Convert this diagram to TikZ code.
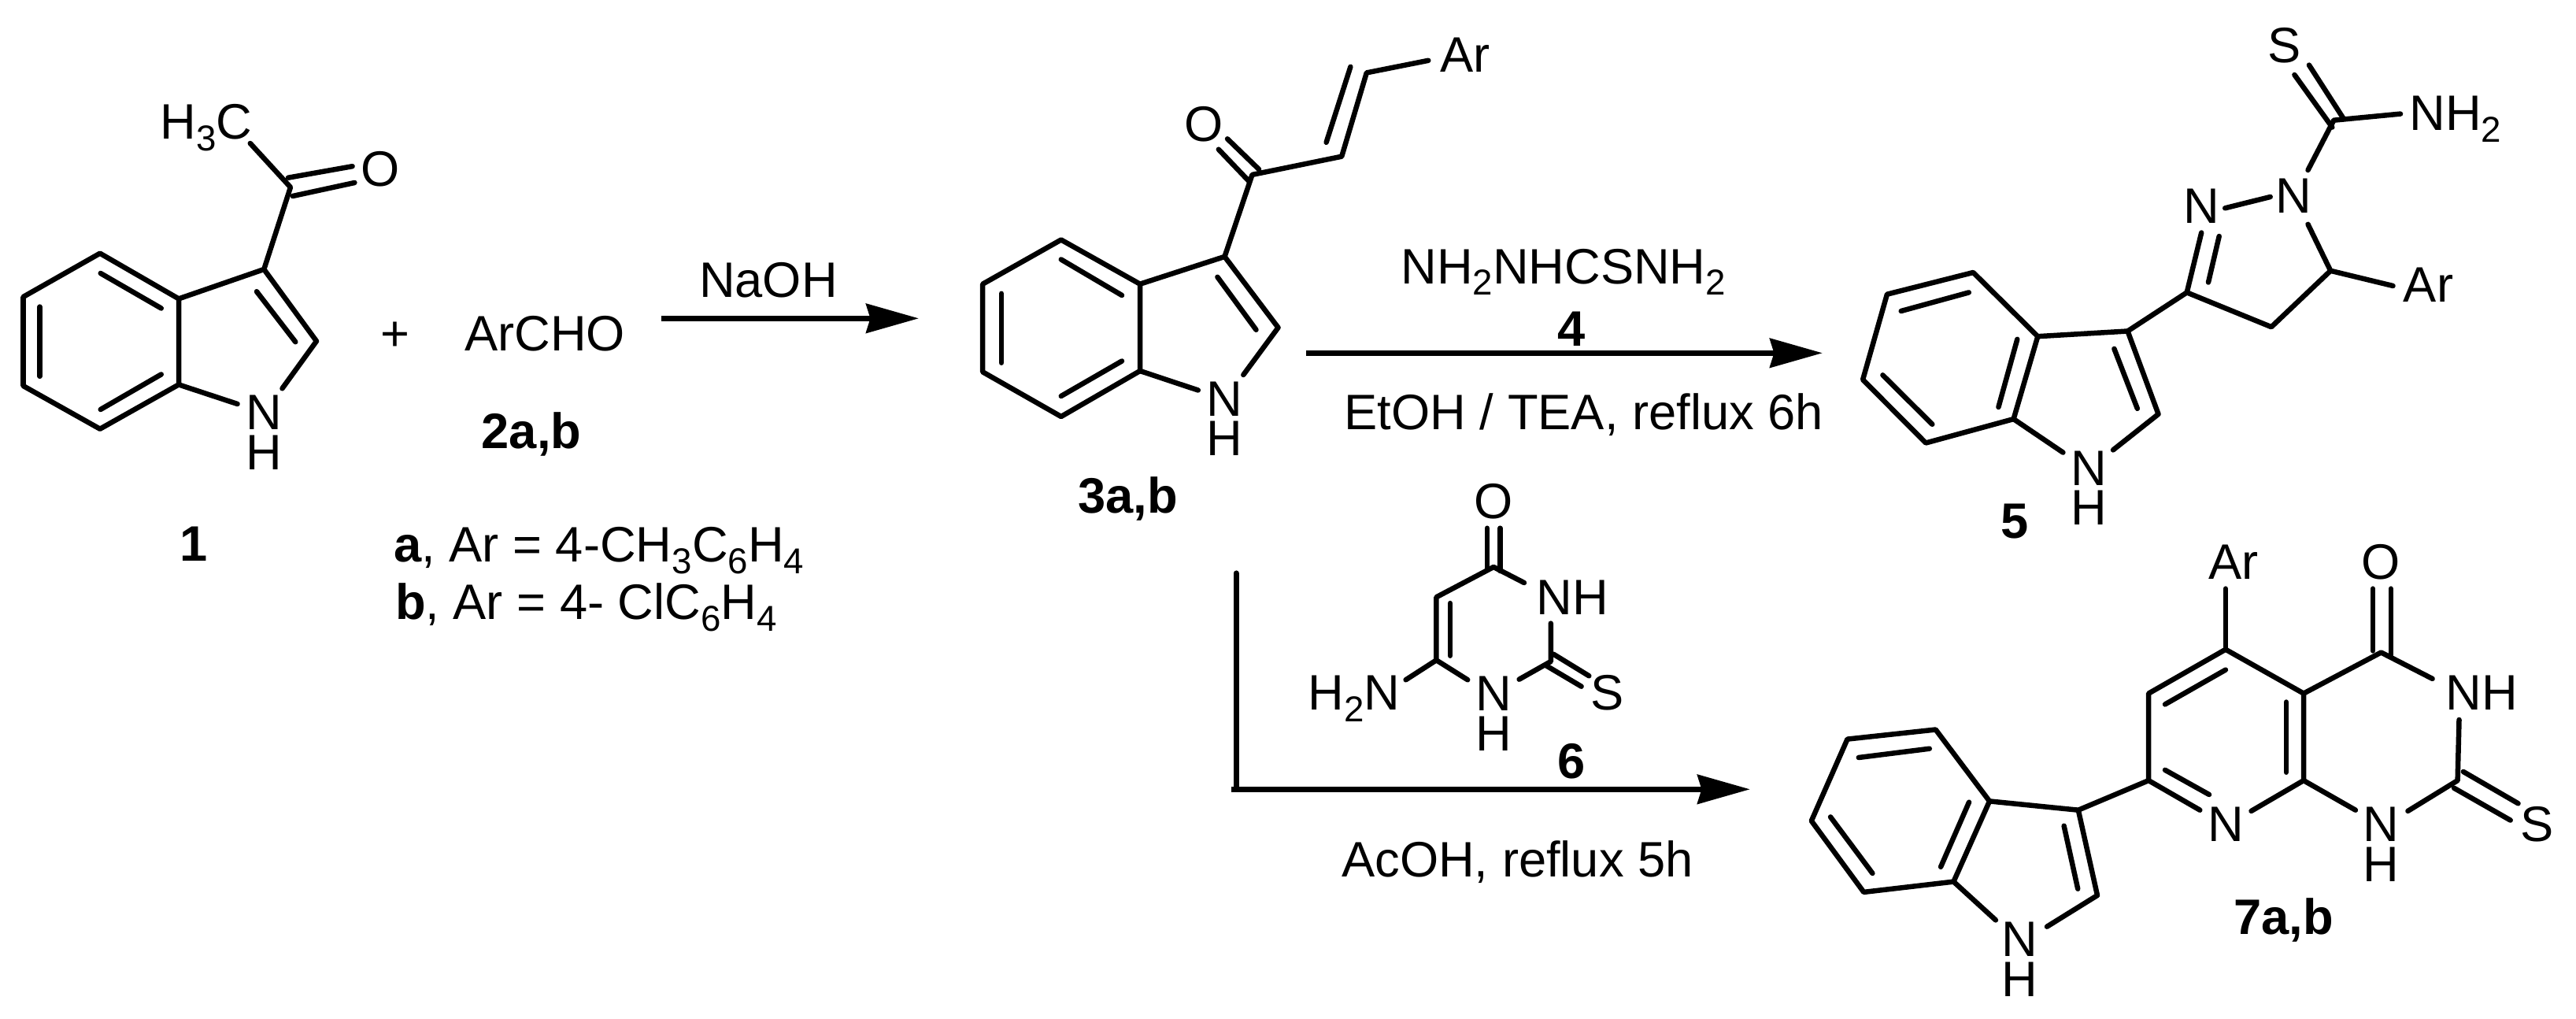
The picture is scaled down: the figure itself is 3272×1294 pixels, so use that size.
\documentclass[tikz,border=0pt]{standalone}
\usepackage{fontspec}
\setmainfont{Liberation Sans}
\usetikzlibrary{arrows.meta}
\newcommand{\chsub}[1]{\raisebox{-8.5pt}{\fontsize{26}{26}\selectfont #1}}
\newcommand{\nhstack}{\vtop{\baselineskip=28.9pt\lineskiplimit=-100pt\hbox{N}\hbox{H}}}
\tikzset{
  bond/.style={line width=3.7pt,line cap=round,line join=round,black},
  rxn/.style={line width=4pt,black,-{Stealth[length=38pt,width=21pt,inset=3pt]}},
  lab/.style={font=\fontsize{36}{36}\selectfont,inner sep=0pt,anchor=base,black},
  labl/.style={lab,anchor=base west},
  labb/.style={font=\fontsize{36}{36}\selectfont\bfseries,inner sep=0pt,anchor=base,black},
}
\begin{document}
\begin{tikzpicture}[x=0.02cm,y=-0.02cm]
\path[fill=white,use as bounding box] (0,0) rectangle (3272,1294);
% ---------- atom and bond-end coordinates
\foreach \n/\x/\y in {
 % compound 1
 a1/127/321.7,a2/29.5/377,a3/29.5/490,a4/127/544.7,a5/227/488.4,a6/227/379.4,
 a7/335.3/342,a8/402/433.2,a9/301.6/513,a10/358.5/493.3,a11/369/237.8,a12/317.8/182,
 a13/366/225.7,a14/447.6/211.2,a15/371.8/249,a16/450.4/232,
 a17/127.7/347,a18/204.8/391.5,a19/50.5/389.6,a20/50.5/477.8,a21/127.7/520,a22/204.8/475.4,
 a23/326/370.2,a24/375.3/434.2,
 % compound 3
 b1/1347.8/304.5,b2/1248.2/360.7,b3/1248.2/472.3,b4/1347.8/529,b5/1448/471,b6/1448/360.7,
 b7/1555.5/325.9,b8/1623.5/416,b9/1521.8/495.5,b10/1579.3/476,
 b11/1347.8/329.5,b12/1425/375,b13/1272/372.8,b14/1272/460.7,b15/1347.8/503,b16/1425/458.5,
 b17/1546.4/351.8,b18/1595.5/418.8,b19/1590.5/221.9,b20/1559/176.3,b21/1599/215,
 b22/1547.8/189.7,b23/1586.3/230,b24/1704.2/198.7,b25/1735.8/92.4,b26/1684.6/180.8,
 b27/1715.4/84.8,b28/1814.3/76.8,
 % compound 5
 c1/2506.3/346,c2/2396.9/373.7,c3/2366.1/482.1,c4/2446.1/562.5,c5/2557.6/532.1,c6/2588.3/427.2,
 c7/2702.5/420.5,c8/2741.5/525.9,c9/2620.4/574.6,c10/2684/571.4,
 c11/2500.8/371.4,c12/2414.7/395,c13/2391.4/476.3,c14/2454.3/538.8,c15/2538.4/517,c16/2562.3/430.8,
 c17/2685.4/442.9,c18/2714.8/518.8,c19/2777.7/371.4,c20/2885/415.2,c21/2960.2/343.8,
 c22/3039.5/363,c23/2826.2/264.3,c24/2883.7/250,c25/2796.2/295.5,c26/2805/358.5,c27/2818.7/300,
 c28/2931.5/284.8,c29/2931.5/216,c30/2964.3/152.7,c31/3049/144.6,
 c32/2932.9/82.6,c33/2976/149.6,c34/2914.4/95,c35/2962.3/161.6,
 % compound 6
 d1/1897.1/720,d2/1888.9/670.7,d3/1888.9/722.4,d4/1905.4/670.7,d5/1905.4/725,
 d6/1824.4/758.3,d7/1824.4/838.3,d8/1841.9/766,d9/1841.9/832.7,d10/1935.9/740,
 d11/1969.8/791.6,d12/1969.8/840,d13/1864.2/863.3,d14/1929.6/862.7,d15/1785.6/863.3,
 d16/1973.2/830.7,d17/2018.3/858.3,d18/1963.5/845,d19/2008.6/871.7,
 % compound 7
 e1/2458.6/926.5,e2/2346.5/938.6,e3/2300.8/1042.4,e4/2367.3/1132.9,e5/2481.4/1119.6,e6/2527/1017.4,
 e7/2639.8/1028.7,e8/2664/1137,e9/2534.9/1168.4,e10/2600/1176.7,
 e11/2450.8/950.7,e12/2360.8/962,e13/2325/1037.4,e14/2378.4/1109,e15/2501/1018.7,e16/2465.1/1100.8,
 e17/2621.6/1048.7,e18/2639.2/1128.7,e19/2729.1/991.1,e20/2729.1/880.6,e21/2826.9/824.7,
 e22/2926/880.6,e23/2926/991.1,e24/2826.9/850.6,e25/2750/894.4,e26/2903.8/891.5,e27/2903.8/980.7,
 e28/2750/977.8,e29/2806/1009,e30/2794.3/1028.7,e31/2859.5/1029.9,e32/2991.9/1028.7,
 e33/3121.6/991.1,e34/3058.4/1029.9,e35/3123.5/914,e36/3024.4/828.5,e37/3089.6/861.9,
 e38/3014/747.6,e39/3014/826.4,e40/3036.8/747.6,e41/3036.8/831.8,e42/2826.9/747.6,
 e43/3128.8/979.9,e44/3198.5/1020.3,e45/3117/1000.7,e46/3188.7/1041.6,
 % reaction arrows
 r1/840/404.3,r2/1167/404.3,r3/1659.3/448.3,r4/2314.9/448.3,r5/1570/727.9,r6/1570/1002.3,r7/1564/1002.3,r8/2222.9/1002.3}
 {\coordinate (\n) at (\x,\y);}
% ---------- compound 1
\draw[bond] (a1)--(a2)--(a3)--(a4)--(a5)--(a6)--cycle;
\draw[bond] (a6)--(a7)--(a8)--(a10);
\draw[bond] (a5)--(a9);
\draw[bond] (a7)--(a11)--(a12);
\draw[bond] (a13)--(a14);
\draw[bond] (a15)--(a16);
\draw[bond] (a17)--(a18);
\draw[bond] (a19)--(a20);
\draw[bond] (a21)--(a22);
\draw[bond] (a23)--(a24);
\node[labl] (n1) at (203,177) {H\chsub{3}C};
\node[lab] (n2) at (482.6,236) {O};
\node[lab] (n3) at (335.3,545.5) {\nhstack};
\node[labb] (n5) at (245.8,712.3) {1};
\node[lab] (n6) at (501.6,445) {+};
\node[lab] (n7) at (692,445) {ArCHO};
\node[labb] (n8) at (675,569) {2a,b};
\node[labl] (n9) at (500,713.3) {\textbf{a}, Ar = 4-CH\chsub{3}C\chsub{6}H\chsub{4}};
\node[labl] (n10) at (501.7,786.7) {\textbf{b}, Ar = 4- ClC\chsub{6}H\chsub{4}};
\node[lab] (n11) at (976,377.7) {NaOH};
\draw[rxn] (r1)--(r2);
% ---------- compound 3
\draw[bond] (b1)--(b2)--(b3)--(b4)--(b5)--(b6)--cycle;
\draw[bond] (b6)--(b7)--(b8)--(b10);
\draw[bond] (b5)--(b9);
\draw[bond] (b7)--(b19)--(b24)--(b25)--(b28);
\draw[bond] (b20)--(b21);
\draw[bond] (b22)--(b23);
\draw[bond] (b26)--(b27);
\draw[bond] (b11)--(b12);
\draw[bond] (b13)--(b14);
\draw[bond] (b15)--(b16);
\draw[bond] (b17)--(b18);
\node[lab] (n12) at (1528.8,179.5) {O};
\node[labl] (n13) at (1829,91.5) {Ar};
\node[lab] (n14) at (1555.5,528) {\nhstack};
\node[labb] (n16) at (1432.7,651) {3a,b};
\node[labl] (n17) at (1779,360) {NH\chsub{2}NHCSNH\chsub{2}};
\node[labb] (n18) at (1996,439.3) {4};
\node[labl] (n19) at (1707.3,545) {EtOH / TEA, reflux 6h};
\draw[rxn] (r3)--(r4);
% ---------- compound 5
\draw[bond] (c1)--(c2)--(c3)--(c4)--(c5)--(c6)--cycle;
\draw[bond] (c6)--(c7)--(c8)--(c10);
\draw[bond] (c5)--(c9);
\draw[bond] (c7)--(c19)--(c20)--(c21)--(c22);
\draw[bond] (c21)--(c28);
\draw[bond] (c19)--(c25);
\draw[bond] (c26)--(c27);
\draw[bond] (c23)--(c24);
\draw[bond] (c29)--(c30)--(c31);
\draw[bond] (c32)--(c33);
\draw[bond] (c34)--(c35);
\draw[bond] (c11)--(c12);
\draw[bond] (c13)--(c14);
\draw[bond] (c15)--(c16);
\draw[bond] (c17)--(c18);
\node[lab] (n20) at (2902,79.5) {S};
\node[labl] (n21) at (3060,166) {NH\chsub{2}};
\node[lab] (n22) at (2796.2,283.5) {N};
\node[lab] (n23) at (2913,270.5) {N};
\node[labl] (n24) at (3052.5,383) {Ar};
\node[lab] (n25) at (2653.3,616) {\nhstack};
\node[labb] (n27) at (2559,683) {5};
% ---------- compound 6
\draw[bond] (d10)--(d1)--(d6)--(d7)--(d13);
\draw[bond] (d7)--(d15);
\draw[bond] (d11)--(d12)--(d14);
\draw[bond] (d2)--(d3);
\draw[bond] (d4)--(d5);
\draw[bond] (d8)--(d9);
\draw[bond] (d16)--(d17);
\draw[bond] (d18)--(d19);
\node[lab] (n28) at (1897,658.3) {O};
\node[labl] (n29) at (1951.4,780) {NH};
\node[labl] (n30) at (1661.5,901.7) {H\chsub{2}N};
\node[lab] (n31) at (1897,902.5) {\nhstack};
\node[lab] (n33) at (2041.6,901.7) {S};
\node[labb] (n34) at (1996,988.3) {6};
\draw[line width=4pt,line cap=round,black] (r5)--(r6);
\draw[rxn] (r7)--(r8);
\node[lab] (n35) at (1927.5,1113.3) {AcOH, reflux 5h};
% ---------- compound 7
\draw[bond] (e1)--(e2)--(e3)--(e4)--(e5)--(e6)--cycle;
\draw[bond] (e6)--(e7)--(e8)--(e10);
\draw[bond] (e5)--(e9);
\draw[bond] (e7)--(e19);
\draw[bond] (e30)--(e19)--(e20)--(e21)--(e22)--(e23)--(e31);
\draw[bond] (e23)--(e32);
\draw[bond] (e22)--(e36)--(e37);
\draw[bond] (e34)--(e33)--(e35);
\draw[bond] (e21)--(e42);
\draw[bond] (e38)--(e39);
\draw[bond] (e40)--(e41);
\draw[bond] (e43)--(e44);
\draw[bond] (e45)--(e46);
\draw[bond] (e24)--(e25);
\draw[bond] (e26)--(e27);
\draw[bond] (e28)--(e29);
\draw[bond] (e11)--(e12);
\draw[bond] (e13)--(e14);
\draw[bond] (e15)--(e16);
\draw[bond] (e17)--(e18);
\node[lab] (n36) at (2836.7,735) {Ar};
\node[lab] (n37) at (3024.4,735.9) {O};
\node[labl] (n38) at (3106,901.9) {NH};
\node[lab] (n39) at (2826.9,1068.3) {N};
\node[lab] (n40) at (3024.4,1068.3) {\nhstack};
\node[lab] (n42) at (3222.6,1068.7) {S};
\node[lab] (n43) at (2565.5,1214.7) {\nhstack};
\node[labb] (n45) at (2900.6,1186.3) {7a,b};
\end{tikzpicture}
\end{document}
